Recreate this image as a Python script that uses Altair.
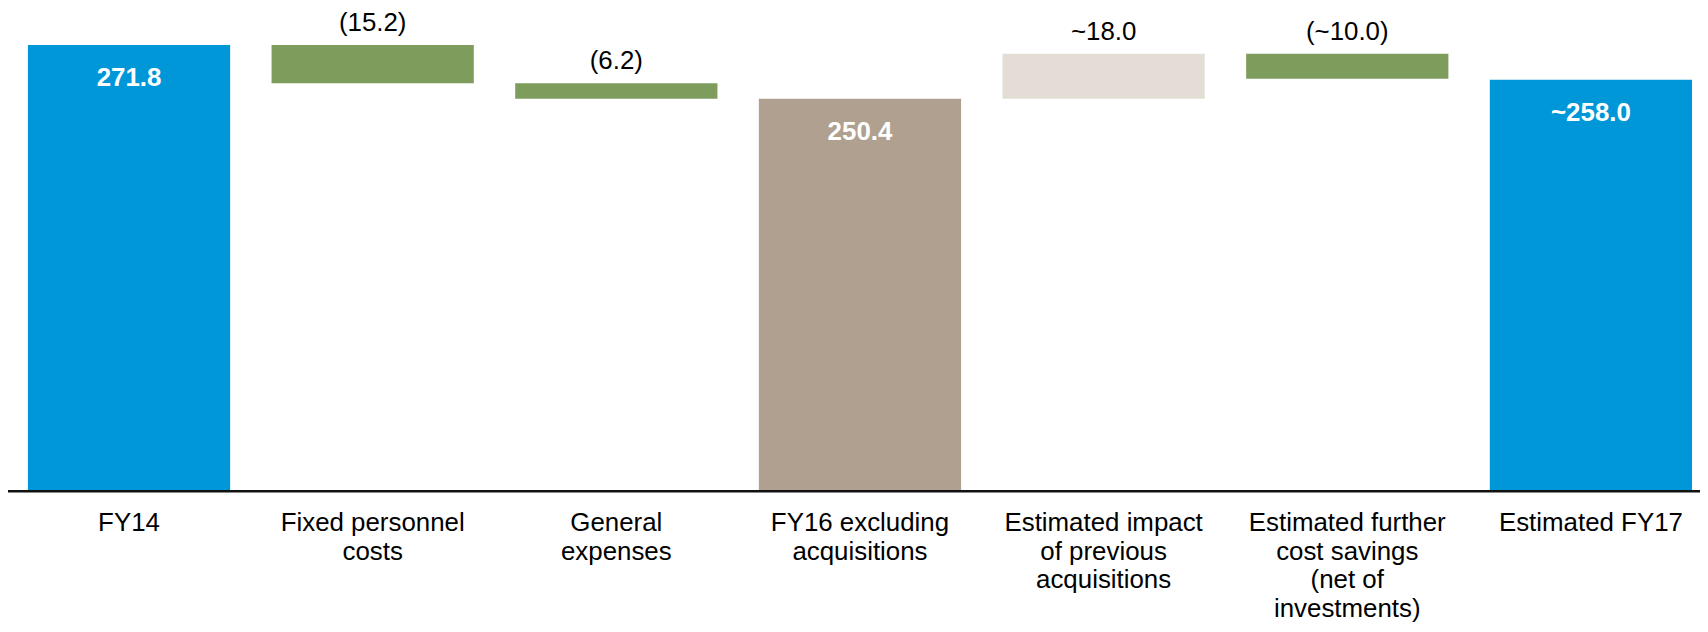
import altair as alt
import pandas as pd

# ---- data ----
categories = [
    "FY14",
    "Fixed personnel\ncosts",
    "General\nexpenses",
    "FY16 excluding\nacquisitions",
    "Estimated impact\nof previous\nacquisitions",
    "Estimated further\ncost savings\n(net of\ninvestments)",
    "Estimated FY17",
]
values = [271.8, -15.2, -6.2, 250.4, 18.0, -10.0, 258.0]
is_total = [True, False, False, True, False, False, True]
value_labels = ["271.8", "(15.2)", "(6.2)", "250.4", "~18.0", "(~10.0)", "~258.0"]
groups = ["Actual", "Saving", "Saving", "Subtotal", "Acquisitions", "Saving", "Actual"]

axis_floor = 94.2   # value at the baseline (axis does not start at zero)
axis_top = 286.0

group_domain = ["Actual", "Saving", "Subtotal", "Acquisitions"]
group_colors = ["#0097D8", "#7E9C5C", "#B0A08F", "#E4DDD6"]

rows = []
running = 0.0
for cat, v, tot, lab, g in zip(categories, values, is_total, value_labels, groups):
    if tot:
        lo, hi = axis_floor, v
        running = v
    else:
        lo, hi = running, running + v
        running = running + v
    rows.append(dict(category=cat, start=min(lo, hi), end=max(lo, hi),
                     label=lab, group=g, total=tot))
df = pd.DataFrame(rows)

FONT = "Liberation Sans"
W, H = 1672, 484

x_enc = alt.X(
    "category:N",
    sort=categories,
    scale=alt.Scale(paddingInner=0.17, paddingOuter=0),
    axis=alt.Axis(
        title=None, labelAngle=0, labelFontSize=26, labelFont=FONT,
        labelColor="black", labelPadding=19, labelLineHeight=28.5,
        labelBaseline="top", labelLimit=500, labelOverlap=False,
        labelExpr="split(datum.value, '\\n')",
        ticks=False, tickSize=0, domain=False,
    ),
)
y_scale = alt.Scale(domain=[axis_floor, axis_top], nice=False, zero=False)

base = alt.Chart(df).encode(x=x_enc)

bars = base.mark_bar().encode(
    y=alt.Y("end:Q", scale=y_scale, axis=None),
    y2="start:Q",
    color=alt.Color("group:N", scale=alt.Scale(domain=group_domain, range=group_colors), legend=None),
)

delta_text = base.transform_filter("!datum.total").mark_text(
    baseline="alphabetic", dy=-14, fontSize=26, font=FONT, color="black"
).encode(y=alt.Y("end:Q", scale=y_scale, axis=None), text="label:N")

total_text = base.transform_filter("datum.total").mark_text(
    baseline="middle", dy=33, fontSize=26, font=FONT, fontWeight="bold", color="white"
).encode(y=alt.Y("end:Q", scale=y_scale, axis=None), text="label:N")

baseline = alt.Chart(pd.DataFrame({"v": [axis_floor]})).mark_rule(
    color="#111111", strokeWidth=2.6
).encode(y=alt.Y("v:Q", scale=y_scale, axis=None), x=alt.value(-30), x2=alt.value(W + 60))

chart = alt.layer(bars, delta_text, total_text, baseline).properties(
    width=W, height=H,
    autosize=alt.AutoSizeParams(type="none"),
    padding={"left": 20, "top": 0, "right": 8, "bottom": 132},
).configure(font=FONT).configure_view(stroke=None)

chart.save("out.html", embed_options={"renderer": "svg", "actions": False})
